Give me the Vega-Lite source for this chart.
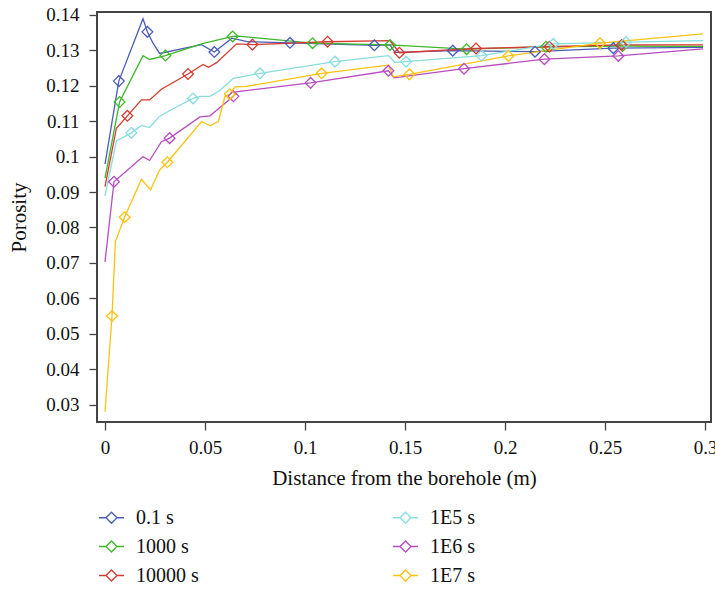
{
  "$schema": "https://vega.github.io/schema/vega-lite/v6.json",
  "width": 614,
  "height": 410,
  "autosize": {"type": "none"},
  "padding": {"left": 97, "top": 12, "right": 4, "bottom": 169},
  "background": "white",
  "config": {
    "font": "Liberation Serif",
    "view": {"stroke": "#444444", "strokeWidth": 2},
    "axis": {
      "domain": false,
      "grid": false,
      "tickColor": "#444444",
      "tickWidth": 1.3,
      "tickSize": 8,
      "labelColor": "#111111",
      "labelFont": "Liberation Serif",
      "labelFontSize": 19,
      "titleColor": "#111111",
      "titleFont": "Liberation Serif",
      "titleFontSize": 21,
      "titleFontWeight": "normal"
    },
    "legend": {
      "labelFont": "Liberation Serif",
      "labelFontSize": 20,
      "labelColor": "#111111",
      "padding": 0
    }
  },
  "data": {
    "values": [
      {"series": "0.1 s", "distance": 0.0, "porosity": 0.0979, "marked": false},
      {"series": "0.1 s", "distance": 0.0069, "porosity": 0.1213, "marked": true},
      {"series": "0.1 s", "distance": 0.019, "porosity": 0.1389, "marked": false},
      {"series": "0.1 s", "distance": 0.0212, "porosity": 0.1352, "marked": true},
      {"series": "0.1 s", "distance": 0.024, "porosity": 0.132, "marked": false},
      {"series": "0.1 s", "distance": 0.0273, "porosity": 0.1291, "marked": false},
      {"series": "0.1 s", "distance": 0.0482, "porosity": 0.1316, "marked": false},
      {"series": "0.1 s", "distance": 0.0547, "porosity": 0.1295, "marked": true},
      {"series": "0.1 s", "distance": 0.0634, "porosity": 0.1334, "marked": false},
      {"series": "0.1 s", "distance": 0.0717, "porosity": 0.1324, "marked": false},
      {"series": "0.1 s", "distance": 0.0925, "porosity": 0.1321, "marked": true},
      {"series": "0.1 s", "distance": 0.1347, "porosity": 0.1314, "marked": true},
      {"series": "0.1 s", "distance": 0.1425, "porosity": 0.1315, "marked": false},
      {"series": "0.1 s", "distance": 0.145, "porosity": 0.1294, "marked": false},
      {"series": "0.1 s", "distance": 0.1739, "porosity": 0.1299, "marked": true},
      {"series": "0.1 s", "distance": 0.215, "porosity": 0.1296, "marked": true},
      {"series": "0.1 s", "distance": 0.2542, "porosity": 0.1306, "marked": true},
      {"series": "0.1 s", "distance": 0.299, "porosity": 0.1308, "marked": false},

      {"series": "1000 s", "distance": 0.0, "porosity": 0.0939, "marked": false},
      {"series": "1000 s", "distance": 0.0073, "porosity": 0.1154, "marked": true},
      {"series": "1000 s", "distance": 0.019, "porosity": 0.1285, "marked": false},
      {"series": "1000 s", "distance": 0.0223, "porosity": 0.1274, "marked": false},
      {"series": "1000 s", "distance": 0.0302, "porosity": 0.1285, "marked": true},
      {"series": "1000 s", "distance": 0.0482, "porosity": 0.1318, "marked": false},
      {"series": "1000 s", "distance": 0.0638, "porosity": 0.1339, "marked": true},
      {"series": "1000 s", "distance": 0.0667, "porosity": 0.134, "marked": false},
      {"series": "1000 s", "distance": 0.1038, "porosity": 0.132, "marked": true},
      {"series": "1000 s", "distance": 0.1425, "porosity": 0.1315, "marked": true},
      {"series": "1000 s", "distance": 0.1808, "porosity": 0.1303, "marked": true},
      {"series": "1000 s", "distance": 0.2205, "porosity": 0.131, "marked": true},
      {"series": "1000 s", "distance": 0.2588, "porosity": 0.1312, "marked": true},
      {"series": "1000 s", "distance": 0.299, "porosity": 0.1311, "marked": false},

      {"series": "10000 s", "distance": 0.0, "porosity": 0.0915, "marked": false},
      {"series": "10000 s", "distance": 0.0057, "porosity": 0.108, "marked": false},
      {"series": "10000 s", "distance": 0.0112, "porosity": 0.1115, "marked": true},
      {"series": "10000 s", "distance": 0.0182, "porosity": 0.116, "marked": false},
      {"series": "10000 s", "distance": 0.0223, "porosity": 0.116, "marked": false},
      {"series": "10000 s", "distance": 0.0282, "porosity": 0.119, "marked": false},
      {"series": "10000 s", "distance": 0.0415, "porosity": 0.1233, "marked": true},
      {"series": "10000 s", "distance": 0.049, "porosity": 0.126, "marked": false},
      {"series": "10000 s", "distance": 0.0517, "porosity": 0.1252, "marked": false},
      {"series": "10000 s", "distance": 0.0558, "porosity": 0.1265, "marked": false},
      {"series": "10000 s", "distance": 0.0658, "porosity": 0.1318, "marked": false},
      {"series": "10000 s", "distance": 0.0737, "porosity": 0.1316, "marked": true},
      {"series": "10000 s", "distance": 0.1113, "porosity": 0.1324, "marked": true},
      {"series": "10000 s", "distance": 0.1425, "porosity": 0.1327, "marked": false},
      {"series": "10000 s", "distance": 0.1472, "porosity": 0.1293, "marked": true},
      {"series": "10000 s", "distance": 0.1855, "porosity": 0.1305, "marked": true},
      {"series": "10000 s", "distance": 0.2222, "porosity": 0.131, "marked": true},
      {"series": "10000 s", "distance": 0.2583, "porosity": 0.1315, "marked": true},
      {"series": "10000 s", "distance": 0.299, "porosity": 0.1315, "marked": false},

      {"series": "1E5 s", "distance": 0.0, "porosity": 0.0889, "marked": false},
      {"series": "1E5 s", "distance": 0.0057, "porosity": 0.1044, "marked": false},
      {"series": "1E5 s", "distance": 0.0132, "porosity": 0.1067, "marked": true},
      {"series": "1E5 s", "distance": 0.0182, "porosity": 0.1088, "marked": false},
      {"series": "1E5 s", "distance": 0.0223, "porosity": 0.1082, "marked": false},
      {"series": "1E5 s", "distance": 0.0273, "porosity": 0.1114, "marked": false},
      {"series": "1E5 s", "distance": 0.0357, "porosity": 0.114, "marked": false},
      {"series": "1E5 s", "distance": 0.044, "porosity": 0.1164, "marked": true},
      {"series": "1E5 s", "distance": 0.0475, "porosity": 0.117, "marked": false},
      {"series": "1E5 s", "distance": 0.0525, "porosity": 0.117, "marked": false},
      {"series": "1E5 s", "distance": 0.0575, "porosity": 0.1187, "marked": false},
      {"series": "1E5 s", "distance": 0.0642, "porosity": 0.1221, "marked": false},
      {"series": "1E5 s", "distance": 0.0775, "porosity": 0.1235, "marked": true},
      {"series": "1E5 s", "distance": 0.115, "porosity": 0.1268, "marked": true},
      {"series": "1E5 s", "distance": 0.1417, "porosity": 0.1285, "marked": false},
      {"series": "1E5 s", "distance": 0.145, "porosity": 0.1266, "marked": false},
      {"series": "1E5 s", "distance": 0.1505, "porosity": 0.1268, "marked": true},
      {"series": "1E5 s", "distance": 0.1883, "porosity": 0.1285, "marked": true},
      {"series": "1E5 s", "distance": 0.2242, "porosity": 0.1318, "marked": true},
      {"series": "1E5 s", "distance": 0.2605, "porosity": 0.1323, "marked": true},
      {"series": "1E5 s", "distance": 0.299, "porosity": 0.1327, "marked": false},

      {"series": "1E6 s", "distance": 0.0, "porosity": 0.0703, "marked": false},
      {"series": "1E6 s", "distance": 0.0045, "porosity": 0.0929, "marked": true},
      {"series": "1E6 s", "distance": 0.019, "porosity": 0.1, "marked": false},
      {"series": "1E6 s", "distance": 0.0223, "porosity": 0.0989, "marked": false},
      {"series": "1E6 s", "distance": 0.0282, "porosity": 0.1042, "marked": false},
      {"series": "1E6 s", "distance": 0.0323, "porosity": 0.1052, "marked": true},
      {"series": "1E6 s", "distance": 0.0475, "porosity": 0.1112, "marked": false},
      {"series": "1E6 s", "distance": 0.0525, "porosity": 0.1115, "marked": false},
      {"series": "1E6 s", "distance": 0.0567, "porosity": 0.1135, "marked": false},
      {"series": "1E6 s", "distance": 0.0642, "porosity": 0.117, "marked": true},
      {"series": "1E6 s", "distance": 0.0655, "porosity": 0.1183, "marked": false},
      {"series": "1E6 s", "distance": 0.1028, "porosity": 0.1208, "marked": true},
      {"series": "1E6 s", "distance": 0.1417, "porosity": 0.1242, "marked": true},
      {"series": "1E6 s", "distance": 0.1445, "porosity": 0.1222, "marked": false},
      {"series": "1E6 s", "distance": 0.1795, "porosity": 0.1248, "marked": true},
      {"series": "1E6 s", "distance": 0.2197, "porosity": 0.1275, "marked": true},
      {"series": "1E6 s", "distance": 0.2567, "porosity": 0.1284, "marked": true},
      {"series": "1E6 s", "distance": 0.299, "porosity": 0.1304, "marked": false},

      {"series": "1E7 s", "distance": 0.0, "porosity": 0.028, "marked": false},
      {"series": "1E7 s", "distance": 0.0035, "porosity": 0.055, "marked": true},
      {"series": "1E7 s", "distance": 0.0052, "porosity": 0.076, "marked": false},
      {"series": "1E7 s", "distance": 0.0098, "porosity": 0.0829, "marked": true},
      {"series": "1E7 s", "distance": 0.0182, "porosity": 0.0936, "marked": false},
      {"series": "1E7 s", "distance": 0.0228, "porosity": 0.0906, "marked": false},
      {"series": "1E7 s", "distance": 0.0273, "porosity": 0.0962, "marked": false},
      {"series": "1E7 s", "distance": 0.0312, "porosity": 0.0984, "marked": true},
      {"series": "1E7 s", "distance": 0.0483, "porosity": 0.1099, "marked": false},
      {"series": "1E7 s", "distance": 0.0525, "porosity": 0.1087, "marked": false},
      {"series": "1E7 s", "distance": 0.0567, "porosity": 0.1099, "marked": false},
      {"series": "1E7 s", "distance": 0.06, "porosity": 0.117, "marked": false},
      {"series": "1E7 s", "distance": 0.0624, "porosity": 0.1176, "marked": true},
      {"series": "1E7 s", "distance": 0.065, "porosity": 0.1197, "marked": false},
      {"series": "1E7 s", "distance": 0.0708, "porosity": 0.1198, "marked": false},
      {"series": "1E7 s", "distance": 0.1083, "porosity": 0.1235, "marked": true},
      {"series": "1E7 s", "distance": 0.1417, "porosity": 0.1258, "marked": false},
      {"series": "1E7 s", "distance": 0.1442, "porosity": 0.1225, "marked": false},
      {"series": "1E7 s", "distance": 0.1522, "porosity": 0.1232, "marked": true},
      {"series": "1E7 s", "distance": 0.2017, "porosity": 0.1284, "marked": true},
      {"series": "1E7 s", "distance": 0.2475, "porosity": 0.132, "marked": true},
      {"series": "1E7 s", "distance": 0.299, "porosity": 0.1346, "marked": false}
    ]
  },
  "encoding": {
    "x": {
      "field": "distance",
      "type": "quantitative",
      "title": "Distance from the borehole (m)",
      "scale": {"domain": [-0.004, 0.303], "nice": false, "zero": false},
      "axis": {
        "values": [0, 0.05, 0.1, 0.15, 0.2, 0.25, 0.3],
        "format": "~g",
        "labelPadding": 8,
        "titlePadding": 10,
        "labelFlush": false
      }
    },
    "y": {
      "field": "porosity",
      "type": "quantitative",
      "title": "Porosity",
      "scale": {"domain": [0.0251, 0.1408], "nice": false, "zero": false},
      "axis": {
        "values": [0.03, 0.04, 0.05, 0.06, 0.07, 0.08, 0.09, 0.1, 0.11, 0.12, 0.13, 0.14],
        "format": "~g",
        "labelPadding": 10,
        "titlePadding": 16,
        "labelFlush": false
      }
    },
    "color": {
      "field": "series",
      "type": "nominal",
      "scale": {
        "domain": ["0.1 s", "1000 s", "10000 s", "1E5 s", "1E6 s", "1E7 s"],
        "range": ["#4b5cb8", "#3db82a", "#d63a2f", "#86dde0", "#b84cc0", "#fcc10f"]
      },
      "legend": {
        "title": null,
        "orient": "none",
        "legendX": 1,
        "legendY": 492,
        "columns": 2,
        "columnPadding": 191,
        "rowPadding": 5,
        "symbolType": "M-1,0L-0.44,0M0.44,0L1,0M-0.44,0L0,-0.44L0.44,0L0,0.44Z",
        "symbolSize": 625,
        "symbolStrokeWidth": 1.3,
        "symbolFillColor": "transparent",
        "labelOffset": 11
      }
    }
  },
  "layer": [
    {
      "mark": {"type": "line", "strokeWidth": 1.3, "clip": true}
    },
    {
      "transform": [{"filter": "datum.marked"}],
      "mark": {"type": "point", "shape": "diamond", "filled": false, "size": 115, "strokeWidth": 1.3, "opacity": 1}
    }
  ]
}
